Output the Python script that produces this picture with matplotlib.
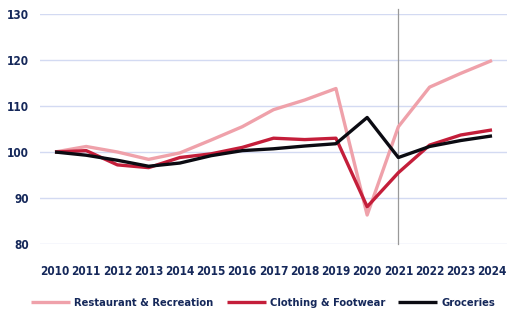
import matplotlib
matplotlib.use("Agg")
import matplotlib.pyplot as plt

years = list(range(2010, 2025))
restaurant = [100, 101.2, 100.0, 98.4, 99.8, 102.6, 105.5, 109.2, 111.3, 113.8, 86.3, 105.5, 114.1, 117.1, 119.9]
clothing = [100, 100.3, 97.2, 96.6, 98.8, 99.6, 101.0, 103.0, 102.7, 103.0, 88.1, 95.5, 101.5, 103.7, 104.8]
groceries = [100, 99.3, 98.2, 96.9, 97.6, 99.2, 100.3, 100.7, 101.3, 101.8, 107.5, 98.8, 101.2, 102.5, 103.5]
series_names = ["Restaurant & Recreation", "Clothing & Footwear", "Groceries"]
yticks = [80, 90, 100, 110, 120, 130]

plt.rcParams['font.family'] = ['DejaVu Sans']
plt.rcParams['font.stretch'] = 'condensed'

navy = "#15285a"
fig = plt.figure(figsize=(5.18, 3.26), dpi=100)
W, H = 518, 326
ax = fig.add_axes([40 / W, 1 - 244 / H, 467 / W, 230 / H])

colors = ["#EFA1AA", "#C41E3A", "#0b0b12"]
for vals, name, c in zip([restaurant, clothing, groceries], series_names, colors):
    ax.plot(years, vals, color=c, lw=2.4, label=name, solid_capstyle='butt', zorder=3)

ax.set_xlim(2009.52, 2024.48)
ax.set_ylim(80, 130)
ax.set_yticks(yticks)
ax.set_xticks(years)
ax.set_xticklabels([str(y) for y in years])
ax.grid(axis='y', color="#D3DAF2", lw=1)
ax.set_axisbelow(True)
for s in ax.spines.values():
    s.set_visible(False)
ax.tick_params(length=0, labelcolor=navy, labelsize=8.5)
ax.tick_params(axis='y', pad=8)
ax.tick_params(axis='x', pad=15)
for lbl in ax.get_xticklabels() + ax.get_yticklabels():
    lbl.set_fontweight('bold')
    lbl.set_fontstretch('condensed')

ax.axvline(2021, ymin=0, ymax=1.02, color="#999999", lw=0.9, clip_on=False, zorder=2)

leg = fig.legend(loc='center', bbox_to_anchor=(0.508, 1 - 303 / H), ncol=3, frameon=False,
                 handlelength=3.5, columnspacing=1.2, handletextpad=0.35,
                 prop={'weight': 'bold', 'size': 8, 'stretch': 'condensed'})
for t in leg.get_texts():
    t.set_color(navy)

fig.savefig("out.png", dpi=100)
